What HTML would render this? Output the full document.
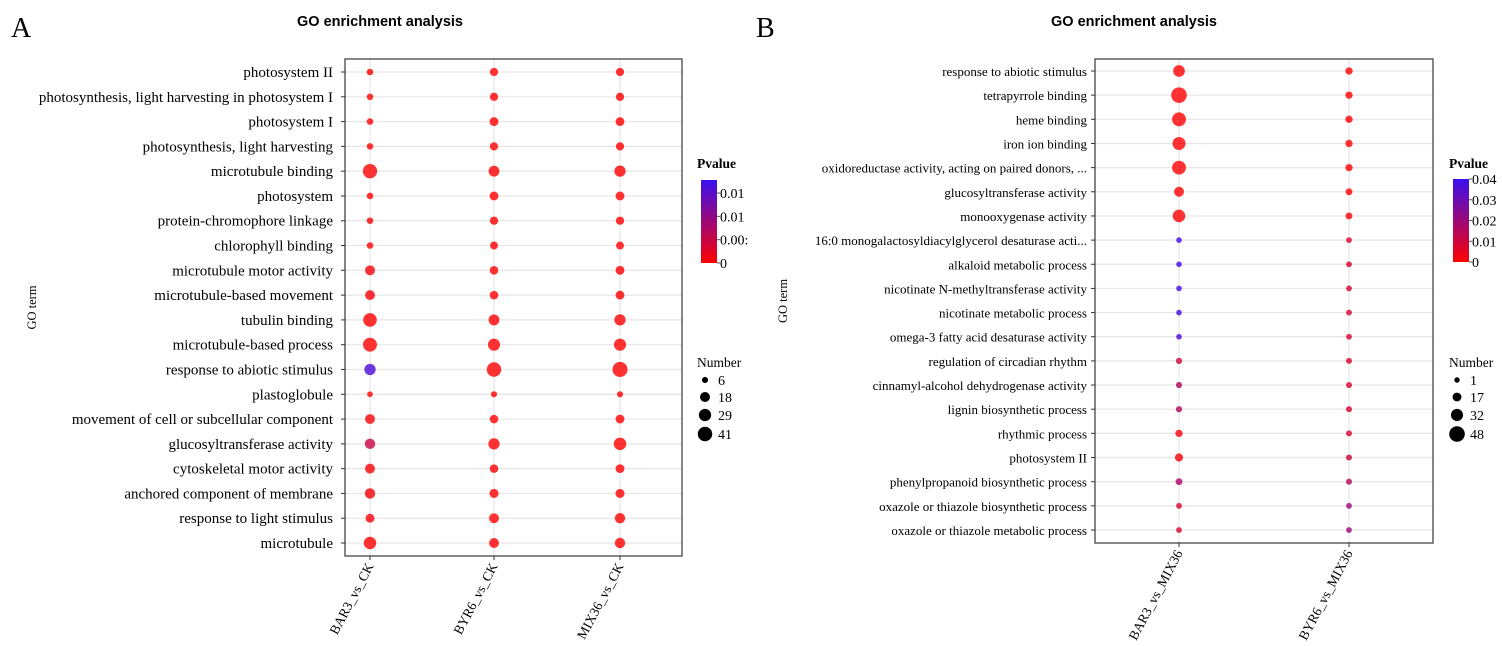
<!DOCTYPE html>
<html><head><meta charset="utf-8"><style>
html,body{margin:0;padding:0;background:#fff;}
svg{display:block;}
</style></head><body>
<svg id="chart" width="1502" height="646" xmlns="http://www.w3.org/2000/svg"></svg>
<script>
const NS="http://www.w3.org/2000/svg";
// ---- Panel A data ----
const termsA=["photosystem II","photosynthesis, light harvesting in photosystem I","photosystem I","photosynthesis, light harvesting","microtubule binding","photosystem","protein-chromophore linkage","chlorophyll binding","microtubule motor activity","microtubule-based movement","tubulin binding","microtubule-based process","response to abiotic stimulus","plastoglobule","movement of cell or subcellular component","glucosyltransferase activity","cytoskeletal motor activity","anchored component of membrane","response to light stimulus","microtubule"];
const groupsA=["BAR3_vs_CK","BYR6_vs_CK","MIX36_vs_CK"];
const countA_BAR3=[7,7,7,7,40,7,7,7,18,18,36,38,24,5,18,20,18,20,14,30];
const countA_BYR6=[12,12,14,12,22,14,12,11,13,13,22,28,41,6,13,24,13,15,18,18];
const countA_MIX36=[12,12,14,12,24,14,12,11,14,14,24,28,45,6,14,30,14,15,20,20];
const pA_BAR3=[0,0,0,0,0,0,0,0,0.0005,0.0005,0,0,0.016,0,0.0005,0.005,0.0005,0.0005,0.0005,0];
const pA_BYR6=[0,0,0,0,0,0,0,0,0,0,0,0,0,0,0,0,0,0,0,0];
const pA_MIX36=[0,0,0,0,0,0,0,0,0,0,0,0,0,0,0,0,0,0,0,0];
const pTickValsA=[0,0.005,0.01,0.015];
const pTicksA=["0","0.00:","0.01","0.01"];
const sizeTicksA=[6,18,29,41];
// ---- Panel B data ----
const termsB=["response to abiotic stimulus","tetrapyrrole binding","heme binding","iron ion binding","oxidoreductase activity, acting on paired donors, ...","glucosyltransferase activity","monooxygenase activity","16:0 monogalactosyldiacylglycerol desaturase acti...","alkaloid metabolic process","nicotinate N-methyltransferase activity","nicotinate metabolic process","omega-3 fatty acid desaturase activity","regulation of circadian rhythm","cinnamyl-alcohol dehydrogenase activity","lignin biosynthetic process","rhythmic process","photosystem II","phenylpropanoid biosynthetic process","oxazole or thiazole biosynthetic process","oxazole or thiazole metabolic process"];
const groupsB=["BAR3_vs_MIX36","BYR6_vs_MIX36"];
const countB_BAR3=[30,48,40,36,40,22,34,2,2,2,2,2,5,5,5,10,14,8,3,3];
const countB_BYR6=[10,10,10,10,10,8,8,3,3,3,3,3,4,4,4,4,4,4,3,3];
const pB_BAR3=[0,0,0,0,0,0,0,0.038,0.037,0.037,0.037,0.036,0.01,0.016,0.016,0.002,0.001,0.017,0.008,0.008];
const pB_BYR6=[0,0,0,0,0,0,0,0.008,0.008,0.008,0.008,0.008,0.008,0.008,0.008,0.008,0.01,0.015,0.02,0.02];
const pTickValsB=[0,0.01,0.02,0.03,0.04];
const pTicksB=["0","0.01","0.02","0.03","0.04"];
const sizeTicksB=[1,17,32,48];

const svg=document.getElementById('chart');
function el(tag,attrs,parent){const e=document.createElementNS(NS,tag);for(const k in attrs)e.setAttribute(k,attrs[k]);(parent||svg).appendChild(e);return e;}
function lerpColor(t){t=Math.max(0,Math.min(1,t));const r=Math.round(255+(55-255)*t),g=Math.round(0+(10-0)*t),b=Math.round(0+(240-0)*t);return `rgb(${r},${g},${b})`;}

function panel(cfg){
  const g=el('g',{});
  
  
  const {x0,x1,y0,y1,rowFirst,rowLast,cols,terms,groups,counts,pvals,pmax,rFn}=cfg;
  const n=terms.length;
  const yS=i=>rowFirst+(rowLast-rowFirst)*i/(n-1);
  const xS=j=>cols[j];
  const t=el('text',{x:cfg.titleX,y:26,'text-anchor':'middle','font-family':'Liberation Sans, sans-serif','font-weight':'bold','font-size':'14.5'},g);
  t.textContent='GO enrichment analysis';
  
  const L=el('text',{x:cfg.letterX,y:37,'font-family':'Liberation Serif, serif','font-size':'28'},g);
  L.textContent=cfg.letter;
  
  for(let i=0;i<n;i++){
    const ln=el('line',{x1:x0,x2:x1,y1:yS(i),y2:yS(i),stroke:'#e6e6e6','stroke-width':1.2},g);
    
  }
  for(let j=0;j<groups.length;j++){
    const ln=el('line',{x1:xS(j),x2:xS(j),y1:y0,y2:y1,stroke:'#e6e6e6','stroke-width':1.2},g);
    
  }
  for(let j=0;j<groups.length;j++){
    for(let i=0;i<n;i++){
      const c=el('circle',{cx:xS(j),cy:yS(i),r:rFn(counts[j][i]),fill:lerpColor(pvals[j][i]/pmax),'fill-opacity':0.8},g);
      
      
    }
  }
  const fr=el('rect',{x:x0,y:y0,width:x1-x0,height:y1-y0,fill:'none',stroke:'#444','stroke-width':1.3},g);
  
  for(let i=0;i<n;i++){
    el('line',{x1:x0-4,x2:x0,y1:yS(i),y2:yS(i),stroke:'#333'},g);
    const tx=el('text',{x:x0-cfg.labGap,y:yS(i)+5,'text-anchor':'end','font-family':'Liberation Serif, serif','font-size':cfg.labFont},g);
    tx.textContent=terms[i];
    
  }
  for(let j=0;j<groups.length;j++){
    el('line',{x1:xS(j),x2:xS(j),y1:y1,y2:y1+4,stroke:'#333'},g);
    const tx=el('text',{x:0,y:0,'text-anchor':'end','font-family':'Liberation Serif, serif','font-size':'13.5',transform:`translate(${xS(j)+4},${y1+10}) rotate(-62)`},g);
    tx.textContent=groups[j];
    
  }
  const yt=el('text',{x:0,y:0,'text-anchor':'middle','font-family':'Liberation Serif, serif','font-size':'12.5',transform:`translate(${cfg.yTitleX},${(y0+y1)/2}) rotate(-90)`},g);
  yt.textContent='GO term';
  
  const lx=cfg.legX;
  const pt=el('text',{x:lx-4,y:168,'font-family':'Liberation Serif, serif','font-weight':'bold','font-size':'13.5'},g);
  pt.textContent='Pvalue';
  
  const gid='grad'+cfg.letter;
  const defs=el('defs',{},g);
  const lg=el('linearGradient',{id:gid,x1:0,y1:1,x2:0,y2:0},defs);
  el('stop',{offset:0,'stop-color':'#ff0000'},lg);
  el('stop',{offset:1,'stop-color':'#3a10f0'},lg);
  const cb=el('rect',{x:lx,y:cfg.cbTop,width:16,height:cfg.cbBot-cfg.cbTop,fill:`url(#${gid})`},g);
  
  const tl=cfg.pTicks;
  for(let k=0;k<tl.length;k++){
    const yy=cfg.cbBot-(cfg.cbBot-cfg.cbTop)*cfg.pTickVals[k]/pmax;
    el('line',{x1:lx+16,x2:lx+19,y1:yy,y2:yy,stroke:'#555'},g);
    const tt=el('text',{x:lx+19,y:yy+5,'font-family':'Liberation Serif, serif','font-size':'14'},g);
    tt.textContent=tl[k];
    
  }
  const nt=el('text',{x:lx-4,y:367,'font-family':'Liberation Serif, serif','font-size':'13.5'},g);
  nt.textContent='Number';
  
  const sy=[380,397,415,434];
  cfg.sizeTicks.forEach((v,k)=>{
    const c=el('circle',{cx:lx+4,cy:sy[k],r:rFn(v),fill:'#000'},g);
    
    const tt=el('text',{x:lx+17,y:sy[k]+5,'font-family':'Liberation Serif, serif','font-size':'14'},g);
    tt.textContent=v;
    
  });
}

panel({name:'panel-a',letter:'A',letterX:11,titleX:380,x0:345,x1:682,y0:59,y1:556,rowFirst:72,rowLast:543,cols:[370,494,620],
  terms:termsA,groups:groupsA,counts:[countA_BAR3,countA_BYR6,countA_MIX36],pvals:[pA_BAR3,pA_BYR6,pA_MIX36],pmax:0.0178,
  rFn:v=>Math.sqrt(v)*1.05+0.5,yTitleX:36,legX:701,cbTop:180,cbBot:263,pTicks:pTicksA,pTickVals:pTickValsA,sizeTicks:sizeTicksA,labFont:'15',labGap:12});
panel({name:'panel-b',letter:'B',letterX:756,titleX:1134,x0:1095,x1:1433,y0:59,y1:543,rowFirst:71,rowLast:530,cols:[1179,1349],
  terms:termsB,groups:groupsB,counts:[countB_BAR3,countB_BYR6],pvals:[pB_BAR3,pB_BYR6],pmax:0.04,
  rFn:v=>2.7+(v-1)/47*5.1,yTitleX:787,legX:1453,cbTop:179,cbBot:262,pTicks:pTicksB,pTickVals:pTickValsB,sizeTicks:sizeTicksB,labFont:'13',labGap:8});
</script>
</body></html>
